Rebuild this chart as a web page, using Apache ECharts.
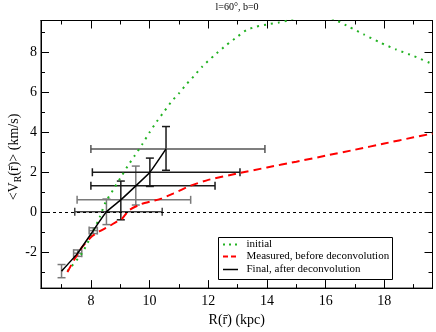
<!DOCTYPE html>
<html>
<head>
<meta charset="utf-8">
<script src="https://cdn.jsdelivr.net/npm/echarts@6/dist/echarts.min.js"></script>
<style>html,body{margin:0;padding:0;background:#fff}#c{width:436px;height:332px}</style>
</head>
<body>
<div id="c"></div>
<script>
// ---- data ----
const initialR = [7.2, 7.7, 8.1, 8.3, 8.5, 8.75, 9.0, 9.25, 9.5, 9.75, 10.0, 10.25, 10.5, 10.75, 11.0, 11.25, 11.5, 11.8, 12.2, 12.6, 13.0, 13.3, 13.65, 14.0, 14.4, 14.7, 15.2, 15.8, 16.37, 16.8, 17.3, 17.85, 18.4, 19.0, 19.64];
const initialV = [-2.95, -2.05, -0.9, -0.25, 0.5, 1.1, 1.7, 2.3, 2.85, 3.4, 4.0, 4.55, 5.05, 5.55, 5.95, 6.4, 6.8, 7.3, 7.85, 8.35, 8.8, 9.12, 9.3, 9.4, 9.5, 9.6, 9.85, 9.9, 9.6, 9.28, 8.9, 8.5, 8.15, 7.82, 7.42];

const measuredR = [7.2, 7.45, 7.7, 8.0, 8.3, 8.6, 8.9, 9.05, 9.3, 9.7, 10.1, 10.4, 10.8, 11.4, 12.0, 13.0, 14.0, 15.0, 16.0, 17.0, 18.0, 19.0, 19.64];
const measuredV = [-3.0, -2.33, -1.75, -1.25, -0.95, -0.72, -0.45, -0.35, 0.1, 0.4, 0.56, 0.68, 0.93, 1.33, 1.62, 1.94, 2.24, 2.53, 2.83, 3.13, 3.44, 3.75, 3.94];

const finalR = [7.0, 7.55, 8.08, 8.53, 9.02, 9.53, 10.01, 10.56];
const finalV = [-2.95, -2.05, -0.92, 0.02, 0.62, 1.32, 2.0, 3.17];
const finalRLow  = [7.0, 7.41, 7.94, 7.45, 7.53, 8.0, 8.05, 8.0];
const finalRHigh = [7.0, 7.69, 8.22, 10.43, 11.40, 12.23, 13.08, 13.93];
const finalVLow  = [-3.28, -2.21, -1.07, -0.62, -0.38, 0.36, 1.29, 2.1];
const finalVHigh = [-2.62, -1.89, -0.78, 0.66, 1.56, 2.31, 2.71, 4.29];

const xMajorTicks = [8, 10, 12, 14, 16, 18];
const xMinorTicks = [7, 9, 11, 13, 15, 17, 19];
const yMajorTicks = [-2, 0, 2, 4, 6, 8];
const yMinorTicks = [-3, -1, 1, 3, 5, 7, 9];

const seriesNames = ['initial', 'Measured, before deconvolution', 'Final, after deconvolution'];
const titleText = 'l=60\u00b0, b=0';
const xTitle = 'R(r\u0304) (kpc)';

// ---- styling ----
const FONT = 'Liberation Serif';
const GREEN = '#22b222', RED = '#ff0000', BLACK = '#000';
const GRAY = '#7a7a7a', DARK = '#1a1a1a';
const vShade = [GRAY, GRAY, GRAY, GRAY, DARK, GRAY, DARK, DARK];
const hShade = [GRAY, GRAY, GRAY, '#444', GRAY, DARK, DARK, '#555'];
const lineStyles = [
  { color: GREEN, width: 2, type: [2, 5] },
  { color: RED, width: 2, type: [8, 5] },
  { color: BLACK, width: 1.5, type: 'solid' }
];
const TICK_COLOR = '#000';

const X_MIN = 6.3, X_MAX = 19.64, Y_MIN = -3.8, Y_MAX = 9.6;

function xAx(pos, ticks, len, labels, name) {
  return {
    type: 'value', position: pos, min: X_MIN, max: X_MAX,
    axisLine: { show: true, onZero: false, lineStyle: { color: '#000', width: 1 } },
    splitLine: { show: false },
    axisTick: { show: true, inside: true, length: len, customValues: ticks, lineStyle: { color: TICK_COLOR, width: 1 } },
    axisLabel: { show: labels, customValues: ticks, color: '#000', fontFamily: FONT, fontSize: 14, margin: 6 },
    name: name || '', nameLocation: 'middle', nameGap: 20,
    nameTextStyle: { color: '#000', fontFamily: FONT, fontSize: 14 }
  };
}
function yAx(pos, ticks, len, labels) {
  return {
    type: 'value', position: pos, min: Y_MIN, max: Y_MAX,
    axisLine: { show: true, onZero: false, lineStyle: { color: '#000', width: 1 } },
    splitLine: { show: false },
    axisTick: { show: true, inside: true, length: len, customValues: ticks, lineStyle: { color: TICK_COLOR, width: 1 } },
    axisLabel: { show: labels, customValues: ticks, color: '#000', fontFamily: FONT, fontSize: 14, margin: 4 }
  };
}

const zip = (a, b) => a.map((v, i) => [v, b[i]]);
const errData = finalR.map((r, i) => [r, finalV[i], finalRLow[i], finalRHigh[i], finalVLow[i], finalVHigh[i]]);

function renderErr(params, api) {
  const i = params.dataIndex;
  const x = api.value(0), y = api.value(1);
  const xl = api.value(2), xh = api.value(3), yl = api.value(4), yh = api.value(5);
  const pT = api.coord([x, yh]), pB = api.coord([x, yl]);
  const pL = api.coord([xl, y]), pR = api.coord([xh, y]);
  const cap = 4;
  const children = [];
  const vs = { stroke: vShade[i], lineWidth: 1.5 };
  const hs = { stroke: hShade[i], lineWidth: 1.5 };
  if (yh !== yl) {
    children.push({ type: 'line', shape: { x1: pT[0], y1: pT[1], x2: pB[0], y2: pB[1] }, style: vs });
    children.push({ type: 'line', shape: { x1: pT[0] - cap, y1: pT[1], x2: pT[0] + cap, y2: pT[1] }, style: vs });
    children.push({ type: 'line', shape: { x1: pB[0] - cap, y1: pB[1], x2: pB[0] + cap, y2: pB[1] }, style: vs });
  }
  if (xh !== xl) {
    children.push({ type: 'line', shape: { x1: pL[0], y1: pL[1], x2: pR[0], y2: pR[1] }, style: hs });
    children.push({ type: 'line', shape: { x1: pL[0], y1: pL[1] - cap, x2: pL[0], y2: pL[1] + cap }, style: hs });
    children.push({ type: 'line', shape: { x1: pR[0], y1: pR[1] - cap, x2: pR[0], y2: pR[1] + cap }, style: hs });
  }
  return { type: 'group', children };
}

// y-axis title pieces measured for placement
const mctx = document.createElement('canvas').getContext('2d');
function tw(t, s) { mctx.font = s + 'px "' + FONT + '"'; return mctx.measureText(t).width; }
const yParts = [['<V', 14, 0], ['R', 10, 4], ['(r\u0304)> (km/s)', 14, 0]];
const yTotal = yParts.reduce((s, p) => s + tw(p[0], p[1]), 0);
let acc = -yTotal / 2;
const yTitleChildren = yParts.map(p => {
  const el = { type: 'text', x: acc, y: p[2], style: { text: p[0], fontFamily: FONT, fontSize: p[1], fill: '#000', textAlign: 'left', textVerticalAlign: 'middle' } };
  acc += tw(p[0], p[1]);
  return el;
});

// legend box drawn with graphic elements
const LG = { x: 218, y: 237, w: 174, h: 42, rowY: [244.5, 256.5, 269.5], sx1: 223, sx2: 238, tx: 246.5 };
const legendChildren = [
  { type: 'rect', shape: { x: LG.x + 0.5, y: LG.y + 0.5, width: LG.w, height: LG.h }, style: { fill: '#fff', stroke: '#000', lineWidth: 1 } }
];
seriesNames.forEach((n, i) => {
  const ls = lineStyles[i];
  legendChildren.push({ type: 'line', shape: { x1: LG.sx1, y1: LG.rowY[i], x2: LG.sx2, y2: LG.rowY[i] },
    style: { stroke: ls.color, lineWidth: ls.width, lineDash: i === 1 ? [5, 3] : (i === 0 ? [2, 4] : null) } });
  legendChildren.push({ type: 'text', x: LG.tx, y: LG.rowY[i], style: { text: n, fontFamily: FONT, fontSize: 11, fill: '#000', textAlign: 'left', textVerticalAlign: 'middle' } });
});

const chart = echarts.init(document.getElementById('c'));
chart.setOption({
  animation: false,
  grid: { left: 41, right: 3.5, top: 20.5, bottom: 37, show: true, borderColor: '#000', borderWidth: 1 },
  xAxis: [xAx('bottom', xMajorTicks, 8, true, xTitle), xAx('bottom', xMinorTicks, 4, false), xAx('top', xMajorTicks, 8, false), xAx('top', xMinorTicks, 4, false)],
  yAxis: [yAx('left', yMajorTicks, 8, true), yAx('left', yMinorTicks, 4, false), yAx('right', yMajorTicks, 8, false), yAx('right', yMinorTicks, 4, false)],
  graphic: [
    { type: 'text', x: 237, y: 7, style: { text: titleText, fontFamily: FONT, fontSize: 10, fill: '#000', textAlign: 'center', textVerticalAlign: 'middle' } },
    { type: 'group', x: 14, y: 157, rotation: Math.PI / 2, children: yTitleChildren },
    { type: 'group', z: 100, children: legendChildren }
  ],
  series: [
    {
      type: 'custom', name: 'errors', renderItem: renderErr, data: errData,
      encode: { x: [0, 2, 3], y: [1, 4, 5] }, z: 2,
      markLine: { silent: true, symbol: 'none', label: { show: false }, lineStyle: { color: '#000', width: 1, type: [3, 3] }, data: [{ yAxis: 0 }] }
    },
    { type: 'line', name: seriesNames[0], data: zip(initialR, initialV), showSymbol: false, symbol: 'none', smooth: 0.2, lineStyle: lineStyles[0], z: 3 },
    { type: 'line', name: seriesNames[1], data: zip(measuredR, measuredV), showSymbol: false, symbol: 'none', smooth: 0.2, lineStyle: lineStyles[1], z: 4 },
    { type: 'line', name: seriesNames[2], data: zip(finalR, finalV), showSymbol: false, symbol: 'none', smooth: 0.15, lineStyle: lineStyles[2], z: 5 }
  ]
});
</script>
</body>
</html>
